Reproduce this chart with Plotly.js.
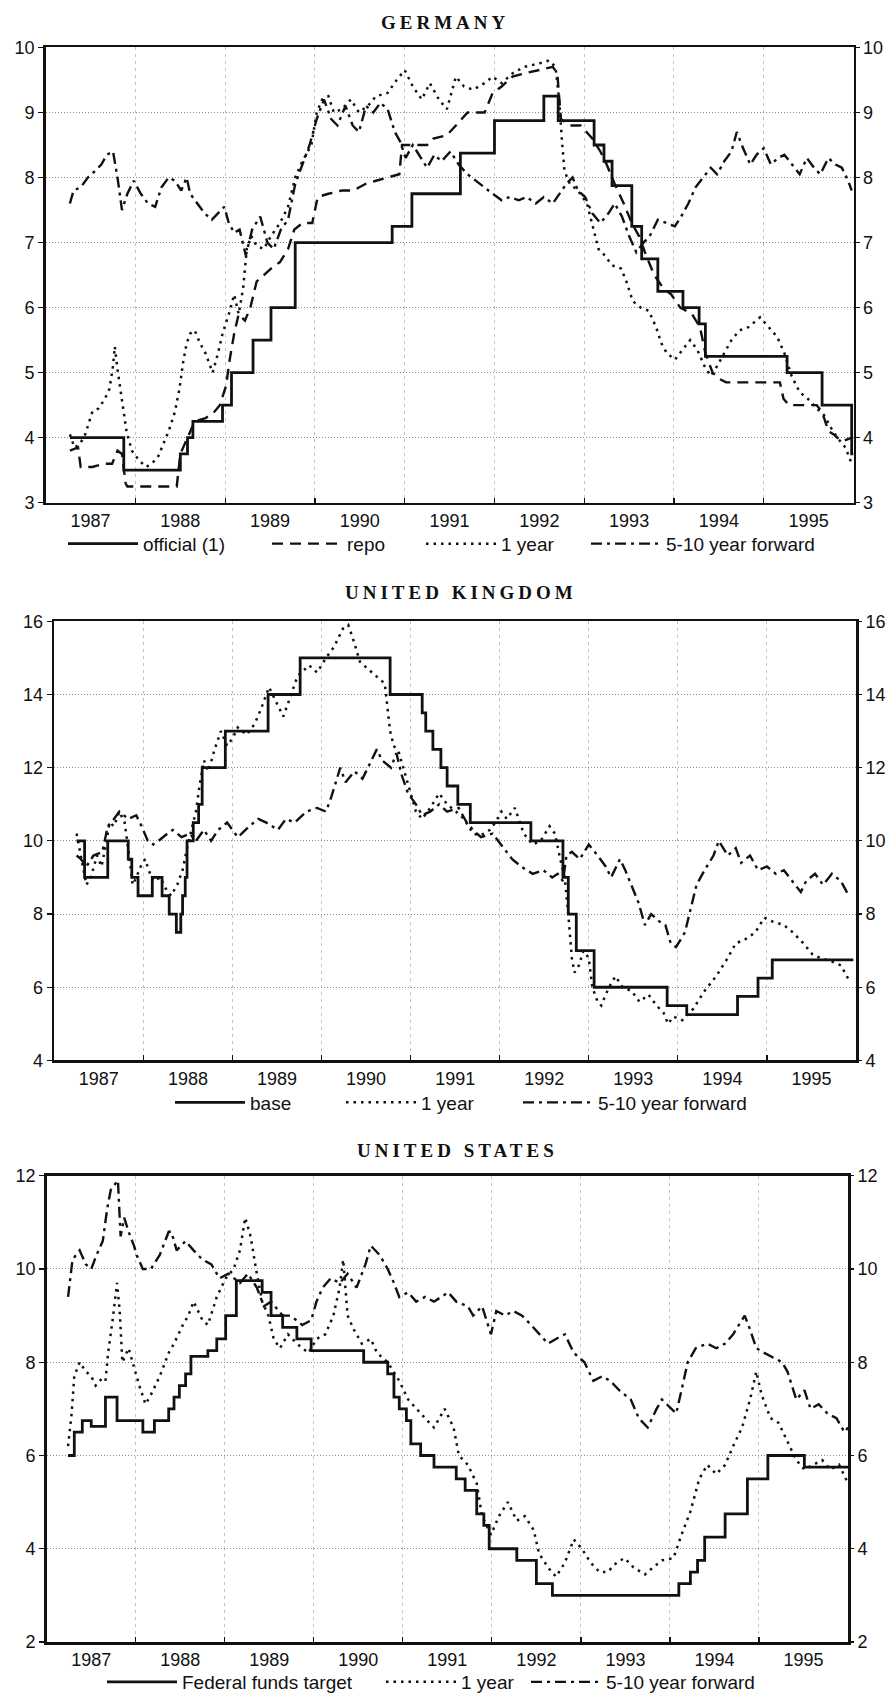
<!DOCTYPE html>
<html>
<head>
<meta charset="utf-8">
<script src="https://cdn.plot.ly/plotly-3.0.1.min.js"></script>
<style>
  html, body { margin: 0; padding: 0; background: #ffffff; }
  #chart { width: 893px; height: 1701px; }
  .annotation-text { letter-spacing: 4px; }
</style>
</head>
<body>
<div id="chart"></div>
<script>
// ---------- tick labels ----------
const yearLabels = ['1987', '1988', '1989', '1990', '1991', '1992', '1993', '1994', '1995'];
const yearBounds = [1988, 1989, 1990, 1991, 1992, 1993, 1994, 1995];

// ---------- Germany (per cent, decimal years) ----------
const deOfficialX = [1987.27, 1987.87, 1988.50, 1988.58, 1988.64, 1988.97, 1989.07, 1989.31, 1989.51, 1989.78, 1990.86, 1991.08, 1991.62, 1992.00, 1992.55, 1992.71, 1993.11, 1993.22, 1993.31, 1993.53, 1993.64, 1993.82, 1994.10, 1994.28, 1994.35, 1995.26, 1995.65, 1995.98, 1996.0];
const deOfficialY = [4.0, 3.5, 3.75, 4.0, 4.25, 4.5, 5.0, 5.5, 6.0, 7.0, 7.25, 7.75, 8.375, 8.875, 9.25, 8.875, 8.5, 8.25, 7.875, 7.25, 6.75, 6.25, 6.0, 5.75, 5.25, 5.0, 4.5, 3.75, 3.75];

const deRepoX = [1987.27, 1987.36, 1987.39, 1987.52, 1987.65, 1987.74, 1987.80, 1987.85, 1987.89, 1987.91, 1988.46, 1988.50, 1988.58, 1988.66, 1988.78, 1988.88, 1988.94, 1989.01, 1989.05, 1989.10, 1989.15, 1989.22, 1989.28, 1989.35, 1989.43, 1989.51, 1989.61, 1989.70, 1989.77, 1989.86, 1989.97, 1990.03, 1990.15, 1990.30, 1990.43, 1990.56, 1990.68, 1990.81, 1990.94, 1990.97, 1991.25, 1991.32, 1991.47, 1991.57, 1991.70, 1991.89, 1991.98, 1992.08, 1992.20, 1992.33, 1992.49, 1992.65, 1992.70, 1992.74, 1992.84, 1992.96, 1993.09, 1993.18, 1993.25, 1993.34, 1993.44, 1993.53, 1993.61, 1993.69, 1993.78, 1993.88, 1993.97, 1994.07, 1994.20, 1994.29, 1994.35, 1994.43, 1994.51, 1994.58, 1995.18, 1995.22, 1995.28, 1995.59, 1995.65, 1995.72, 1995.78, 1995.82, 1995.89, 1995.98];
const deRepoY = [3.8, 3.85, 3.55, 3.55, 3.6, 3.6, 3.8, 3.75, 3.3, 3.25, 3.25, 3.75, 4.0, 4.25, 4.3, 4.4, 4.5, 4.8, 5.2, 5.6, 5.9, 5.8, 6.0, 6.4, 6.5, 6.6, 6.7, 6.9, 7.2, 7.3, 7.3, 7.7, 7.75, 7.8, 7.8, 7.9, 7.95, 8.0, 8.05, 8.5, 8.5, 8.6, 8.65, 8.8, 9.0, 9.0, 9.3, 9.4, 9.55, 9.6, 9.65, 9.7, 9.6, 8.9, 8.8, 8.8, 8.6, 8.4, 8.2, 7.9, 7.6, 7.3, 7.1, 6.8, 6.5, 6.3, 6.2, 6.0, 5.9, 5.7, 5.3, 5.0, 4.9, 4.85, 4.85, 4.6, 4.5, 4.5, 4.4, 4.1, 4.05, 4.0, 3.95, 4.0];

const de1yX = [1987.27, 1987.32, 1987.38, 1987.44, 1987.52, 1987.59, 1987.66, 1987.71, 1987.75, 1987.77, 1987.80, 1987.85, 1987.90, 1987.96, 1988.04, 1988.12, 1988.18, 1988.25, 1988.31, 1988.37, 1988.44, 1988.49, 1988.53, 1988.57, 1988.61, 1988.66, 1988.72, 1988.78, 1988.86, 1988.92, 1988.97, 1989.04, 1989.10, 1989.15, 1989.20, 1989.24, 1989.29, 1989.35, 1989.43, 1989.51, 1989.61, 1989.70, 1989.78, 1989.86, 1989.96, 1990.02, 1990.08, 1990.15, 1990.21, 1990.30, 1990.40, 1990.49, 1990.59, 1990.68, 1990.81, 1990.91, 1991.00, 1991.09, 1991.19, 1991.28, 1991.38, 1991.47, 1991.57, 1991.66, 1991.76, 1991.89, 1991.98, 1992.08, 1992.20, 1992.33, 1992.49, 1992.61, 1992.68, 1992.72, 1992.75, 1992.78, 1992.84, 1992.93, 1993.03, 1993.10, 1993.16, 1993.23, 1993.31, 1993.41, 1993.47, 1993.54, 1993.63, 1993.72, 1993.80, 1993.86, 1993.92, 1994.01, 1994.09, 1994.18, 1994.26, 1994.34, 1994.41, 1994.48, 1994.56, 1994.64, 1994.73, 1994.83, 1994.96, 1995.05, 1995.15, 1995.23, 1995.31, 1995.40, 1995.49, 1995.59, 1995.67, 1995.75, 1995.82, 1995.91, 1995.98];
const de1yY = [4.05, 3.85, 3.9, 4.05, 4.4, 4.45, 4.6, 4.75, 5.1, 5.4, 5.05, 4.6, 4.1, 3.8, 3.65, 3.55, 3.6, 3.7, 3.9, 4.1, 4.4, 4.75, 5.15, 5.45, 5.6, 5.65, 5.45, 5.3, 5.0, 5.3, 5.6, 5.9, 6.2, 5.9, 6.3, 6.9, 7.1, 6.95, 6.9, 7.1, 7.3, 7.55, 8.0, 8.25, 8.5, 9.0, 9.2, 9.25, 9.0, 9.05, 9.2, 9.0, 9.1, 9.25, 9.3, 9.5, 9.65, 9.4, 9.2, 9.45, 9.2, 9.05, 9.55, 9.4, 9.35, 9.45, 9.55, 9.45, 9.6, 9.7, 9.75, 9.8, 9.7, 9.2, 8.6, 8.1, 7.9, 7.8, 7.6, 7.2, 6.9, 6.8, 6.65, 6.6, 6.4, 6.1, 6.0, 5.95, 5.7, 5.45, 5.3, 5.2, 5.35, 5.5, 5.35, 5.1, 4.95, 5.1, 5.3, 5.5, 5.65, 5.7, 5.85, 5.7, 5.55, 5.3, 4.95, 4.7, 4.6, 4.45, 4.35, 4.15, 4.0, 3.85, 3.6];

const deFwdX = [1987.27, 1987.31, 1987.39, 1987.47, 1987.55, 1987.62, 1987.68, 1987.75, 1987.80, 1987.85, 1987.91, 1987.98, 1988.06, 1988.14, 1988.22, 1988.29, 1988.37, 1988.44, 1988.51, 1988.57, 1988.61, 1988.69, 1988.77, 1988.85, 1988.92, 1988.99, 1989.04, 1989.10, 1989.16, 1989.23, 1989.30, 1989.39, 1989.47, 1989.54, 1989.62, 1989.70, 1989.78, 1989.86, 1989.94, 1990.02, 1990.10, 1990.18, 1990.25, 1990.34, 1990.42, 1990.49, 1990.57, 1990.65, 1990.73, 1990.81, 1990.89, 1990.95, 1991.01, 1991.09, 1991.18, 1991.25, 1991.33, 1991.41, 1991.51, 1991.60, 1991.70, 1991.79, 1991.89, 1991.98, 1992.08, 1992.17, 1992.27, 1992.36, 1992.46, 1992.55, 1992.65, 1992.73, 1992.80, 1992.87, 1992.93, 1993.01, 1993.09, 1993.18, 1993.27, 1993.34, 1993.42, 1993.50, 1993.58, 1993.66, 1993.73, 1993.82, 1993.91, 1994.01, 1994.08, 1994.16, 1994.24, 1994.32, 1994.41, 1994.48, 1994.56, 1994.64, 1994.70, 1994.77, 1994.85, 1994.92, 1995.00, 1995.08, 1995.16, 1995.23, 1995.31, 1995.40, 1995.48, 1995.56, 1995.63, 1995.72, 1995.80, 1995.87, 1995.94, 1995.98];
const deFwdY = [7.6, 7.8, 7.85, 8.0, 8.1, 8.2, 8.35, 8.4, 8.0, 7.5, 7.75, 7.95, 7.75, 7.6, 7.55, 7.85, 8.0, 7.95, 7.8, 8.0, 7.75, 7.6, 7.45, 7.35, 7.45, 7.55, 7.3, 7.15, 7.2, 6.8, 7.2, 7.4, 7.0, 6.9, 7.2, 7.35, 7.9, 8.2, 8.5, 8.9, 9.2, 8.9, 8.8, 9.1, 8.8, 8.7, 9.1, 9.0, 9.15, 9.05, 8.7, 8.55, 8.3, 8.5, 8.3, 8.15, 8.35, 8.25, 8.4, 8.2, 8.05, 7.95, 7.85, 7.75, 7.65, 7.7, 7.65, 7.7, 7.6, 7.7, 7.6, 7.75, 7.9, 8.0, 7.8, 7.7, 7.45, 7.3, 7.45, 7.6, 7.4, 7.1, 6.85, 7.0, 7.1, 7.35, 7.3, 7.25, 7.4, 7.6, 7.85, 8.0, 8.15, 8.05, 8.25, 8.4, 8.7, 8.45, 8.2, 8.35, 8.45, 8.2, 8.3, 8.35, 8.2, 8.05, 8.3, 8.15, 8.05, 8.3, 8.2, 8.15, 7.95, 7.8];

// ---------- United Kingdom ----------
const ukBaseX = [1987.25, 1987.34, 1987.60, 1987.83, 1987.87, 1987.94, 1988.10, 1988.21, 1988.29, 1988.37, 1988.42, 1988.44, 1988.47, 1988.49, 1988.56, 1988.62, 1988.66, 1988.92, 1989.40, 1989.76, 1990.77, 1991.13, 1991.17, 1991.25, 1991.34, 1991.41, 1991.53, 1991.67, 1992.35, 1992.71, 1992.77, 1992.86, 1993.06, 1993.88, 1994.10, 1994.67, 1994.90, 1995.06, 1995.97];
const ukBaseY = [10, 9, 10, 9.5, 9, 8.5, 9, 8.5, 8, 7.5, 8, 8.5, 9, 10, 10.5, 11, 12, 13, 14, 15, 14, 13.5, 13, 12.5, 12, 11.5, 11, 10.5, 10, 9, 8, 7, 6, 5.5, 5.25, 5.75, 6.25, 6.75, 6.75];

const uk1yX = [1987.25, 1987.29, 1987.32, 1987.36, 1987.41, 1987.48, 1987.53, 1987.58, 1987.62, 1987.67, 1987.73, 1987.79, 1987.84, 1987.88, 1987.92, 1987.97, 1988.02, 1988.06, 1988.11, 1988.19, 1988.25, 1988.31, 1988.38, 1988.44, 1988.49, 1988.54, 1988.59, 1988.63, 1988.68, 1988.73, 1988.80, 1988.87, 1988.94, 1989.00, 1989.06, 1989.16, 1989.25, 1989.32, 1989.41, 1989.51, 1989.57, 1989.63, 1989.73, 1989.86, 1989.95, 1990.05, 1990.14, 1990.24, 1990.30, 1990.37, 1990.43, 1990.52, 1990.62, 1990.71, 1990.77, 1990.81, 1990.87, 1990.94, 1991.00, 1991.06, 1991.13, 1991.22, 1991.32, 1991.41, 1991.51, 1991.60, 1991.70, 1991.79, 1991.89, 1991.95, 1992.02, 1992.08, 1992.17, 1992.27, 1992.37, 1992.46, 1992.56, 1992.62, 1992.68, 1992.73, 1992.77, 1992.81, 1992.84, 1992.89, 1992.94, 1993.00, 1993.04, 1993.10, 1993.14, 1993.19, 1993.25, 1993.30, 1993.38, 1993.48, 1993.57, 1993.67, 1993.76, 1993.84, 1993.89, 1993.95, 1994.05, 1994.17, 1994.30, 1994.43, 1994.56, 1994.65, 1994.75, 1994.87, 1994.97, 1995.06, 1995.19, 1995.29, 1995.41, 1995.51, 1995.60, 1995.73, 1995.83, 1995.92];
const uk1yY = [10.2, 9.7, 9.4, 8.8, 9.0, 9.6, 9.3, 9.9, 10.5, 10.4, 10.8, 10.5, 9.6, 8.8, 9.0, 9.3, 9.5, 9.2, 8.9, 9.0, 8.7, 8.5, 8.8, 9.2, 9.8, 10.3, 10.8, 11.5, 12.2, 11.9, 12.5, 13.0, 12.6, 12.8, 13.1, 12.9, 13.2, 13.6, 14.2, 13.7, 13.4, 13.8, 14.5, 14.8, 14.6, 15.0, 15.3, 15.8, 15.9, 15.4, 14.9, 14.7, 14.5, 14.3, 13.0, 12.6, 12.4, 11.8, 11.3, 10.8, 10.6, 10.9, 11.3, 11.0, 10.8, 10.6, 10.2, 10.15, 10.3, 10.5, 10.8, 10.6, 10.9, 10.2, 9.9, 10.0, 10.4, 10.2, 9.5, 9.0, 8.0, 6.8, 6.4, 6.6, 7.0, 6.8, 6.0, 5.6, 5.5, 5.8, 6.1, 6.3, 6.0, 5.9, 5.6, 5.8, 5.5, 5.3, 5.0, 5.2, 5.1, 5.4, 5.9, 6.3, 6.8, 7.2, 7.3, 7.5, 7.9, 7.8, 7.7, 7.5, 7.2, 6.9, 6.8, 6.7, 6.6, 6.2];

const ukFwdX = [1987.25, 1987.30, 1987.36, 1987.44, 1987.54, 1987.60, 1987.67, 1987.73, 1987.83, 1987.92, 1987.98, 1988.05, 1988.11, 1988.17, 1988.27, 1988.33, 1988.43, 1988.52, 1988.59, 1988.68, 1988.76, 1988.84, 1988.94, 1989.06, 1989.19, 1989.29, 1989.38, 1989.51, 1989.60, 1989.70, 1989.83, 1989.95, 1990.05, 1990.11, 1990.21, 1990.27, 1990.37, 1990.46, 1990.56, 1990.62, 1990.68, 1990.78, 1990.84, 1990.90, 1990.97, 1991.06, 1991.13, 1991.22, 1991.32, 1991.41, 1991.54, 1991.63, 1991.70, 1991.79, 1991.92, 1992.05, 1992.14, 1992.24, 1992.37, 1992.49, 1992.59, 1992.65, 1992.71, 1992.75, 1992.81, 1992.90, 1993.00, 1993.10, 1993.19, 1993.25, 1993.35, 1993.41, 1993.51, 1993.56, 1993.63, 1993.70, 1993.79, 1993.86, 1993.92, 1993.98, 1994.08, 1994.16, 1994.21, 1994.30, 1994.40, 1994.46, 1994.56, 1994.65, 1994.71, 1994.81, 1994.90, 1995.00, 1995.10, 1995.19, 1995.29, 1995.38, 1995.44, 1995.54, 1995.63, 1995.73, 1995.83, 1995.92];
const ukFwdY = [9.6, 9.5, 9.3, 9.6, 9.7, 10.4, 10.6, 10.8, 10.6, 10.7, 10.4, 10.0, 9.9, 10.0, 10.2, 10.3, 10.1, 10.2, 10.0, 10.3, 10.0, 10.3, 10.5, 10.1, 10.4, 10.6, 10.5, 10.3, 10.6, 10.5, 10.8, 10.9, 10.8, 11.2, 12.0, 11.6, 11.9, 11.7, 12.2, 12.5, 12.2, 12.0, 12.4, 11.8, 11.3, 11.0, 10.7, 10.8, 11.0, 10.8, 10.9, 10.5, 10.3, 10.1, 10.2, 9.8, 9.5, 9.3, 9.1, 9.2, 9.0, 9.1, 8.9, 9.6, 9.7, 9.5, 9.9, 9.6, 9.3, 9.0, 9.5, 9.2, 8.6, 8.3, 7.7, 8.0, 7.8, 7.7, 7.2, 7.1, 7.5, 8.3, 8.8, 9.2, 9.6, 10.0, 9.6, 9.8, 9.4, 9.6, 9.2, 9.3, 9.1, 9.2, 8.9, 8.6, 8.9, 9.1, 8.8, 9.1, 8.9, 8.5];

// ---------- United States ----------
const usFedX = [1987.24, 1987.31, 1987.40, 1987.50, 1987.66, 1987.79, 1988.08, 1988.21, 1988.37, 1988.43, 1988.49, 1988.56, 1988.62, 1988.81, 1988.91, 1989.01, 1989.13, 1989.42, 1989.52, 1989.65, 1989.81, 1989.97, 1990.56, 1990.83, 1990.90, 1990.96, 1991.04, 1991.09, 1991.20, 1991.35, 1991.60, 1991.70, 1991.83, 1991.91, 1991.97, 1992.28, 1992.50, 1992.68, 1994.10, 1994.23, 1994.31, 1994.39, 1994.62, 1994.87, 1995.10, 1995.51, 1996.0];
const usFedY = [6.0, 6.5, 6.75, 6.625, 7.25, 6.75, 6.5, 6.75, 7.0, 7.25, 7.5, 7.75, 8.125, 8.25, 8.5, 9.0, 9.75, 9.5, 9.0, 8.75, 8.5, 8.25, 8.0, 7.75, 7.25, 7.0, 6.75, 6.25, 6.0, 5.75, 5.5, 5.25, 4.75, 4.5, 4.0, 3.75, 3.25, 3.0, 3.25, 3.5, 3.75, 4.25, 4.75, 5.5, 6.0, 5.75, 5.75];

const us1yX = [1987.24, 1987.28, 1987.31, 1987.37, 1987.44, 1987.50, 1987.55, 1987.62, 1987.66, 1987.69, 1987.74, 1987.79, 1987.82, 1987.85, 1987.92, 1987.98, 1988.04, 1988.11, 1988.17, 1988.27, 1988.37, 1988.43, 1988.53, 1988.59, 1988.65, 1988.75, 1988.81, 1988.91, 1989.01, 1989.10, 1989.17, 1989.23, 1989.29, 1989.36, 1989.42, 1989.49, 1989.55, 1989.62, 1989.71, 1989.81, 1989.94, 1990.03, 1990.13, 1990.22, 1990.29, 1990.33, 1990.38, 1990.45, 1990.54, 1990.64, 1990.71, 1990.83, 1990.96, 1991.06, 1991.15, 1991.25, 1991.35, 1991.41, 1991.47, 1991.57, 1991.63, 1991.73, 1991.83, 1991.89, 1991.99, 1992.08, 1992.18, 1992.28, 1992.37, 1992.47, 1992.53, 1992.63, 1992.72, 1992.82, 1992.92, 1993.01, 1993.11, 1993.21, 1993.30, 1993.40, 1993.49, 1993.59, 1993.72, 1993.81, 1993.91, 1994.04, 1994.13, 1994.23, 1994.33, 1994.42, 1994.52, 1994.62, 1994.71, 1994.81, 1994.90, 1994.97, 1995.03, 1995.13, 1995.22, 1995.32, 1995.42, 1995.51, 1995.61, 1995.71, 1995.80, 1995.90, 1996.0];
const us1yY = [6.2, 6.9, 7.7, 8.0, 7.8, 7.7, 7.5, 7.65, 7.6, 8.2, 8.9, 9.7, 9.1, 8.0, 8.3, 7.9, 7.5, 7.1, 7.3, 7.7, 8.2, 8.4, 8.8, 9.0, 9.3, 8.9, 8.8, 9.4, 9.8, 10.0, 10.4, 11.1, 10.7, 9.9, 9.3, 9.0, 8.5, 8.3, 8.6, 8.4, 8.2, 8.5, 8.6, 9.0, 9.6, 10.2, 9.0, 8.7, 8.4, 8.5, 8.2, 8.0, 7.6, 7.2, 7.0, 6.8, 6.6, 6.8, 7.0, 6.6, 6.0, 5.8, 5.4, 4.7, 4.3, 4.7, 5.0, 4.6, 4.7, 4.4, 3.9, 3.6, 3.4, 3.7, 4.2, 4.0, 3.7, 3.5, 3.5, 3.7, 3.8, 3.6, 3.45, 3.6, 3.75, 3.8, 4.3, 4.8, 5.5, 5.8, 5.6, 5.8, 6.2, 6.6, 7.2, 7.8, 7.3, 6.8, 6.7, 6.3, 5.9, 5.7, 5.8, 5.9, 5.7, 5.8, 5.4];

const usFwdX = [1987.24, 1987.29, 1987.37, 1987.44, 1987.50, 1987.56, 1987.63, 1987.68, 1987.72, 1987.80, 1987.83, 1987.87, 1987.92, 1987.98, 1988.01, 1988.08, 1988.17, 1988.27, 1988.37, 1988.40, 1988.46, 1988.56, 1988.65, 1988.75, 1988.85, 1988.94, 1989.04, 1989.17, 1989.26, 1989.36, 1989.44, 1989.52, 1989.65, 1989.74, 1989.87, 1989.97, 1990.03, 1990.10, 1990.19, 1990.29, 1990.38, 1990.48, 1990.58, 1990.64, 1990.74, 1990.83, 1990.90, 1990.96, 1991.06, 1991.15, 1991.25, 1991.35, 1991.51, 1991.60, 1991.73, 1991.79, 1991.89, 1991.99, 1992.05, 1992.15, 1992.24, 1992.34, 1992.44, 1992.53, 1992.63, 1992.72, 1992.82, 1992.92, 1993.04, 1993.14, 1993.24, 1993.33, 1993.43, 1993.56, 1993.65, 1993.75, 1993.85, 1993.91, 1994.01, 1994.07, 1994.13, 1994.20, 1994.29, 1994.42, 1994.52, 1994.62, 1994.71, 1994.78, 1994.84, 1994.90, 1994.97, 1995.06, 1995.16, 1995.26, 1995.32, 1995.42, 1995.51, 1995.58, 1995.67, 1995.77, 1995.87, 1995.96, 1996.0];
const usFwdY = [9.4, 10.2, 10.4, 10.1, 10.0, 10.3, 10.6, 11.3, 11.7, 11.9, 10.7, 11.1, 10.8, 10.5, 10.3, 10.0, 10.0, 10.3, 10.8, 10.8, 10.4, 10.6, 10.4, 10.2, 10.1, 9.8, 9.9, 9.7, 9.9, 9.6, 9.2, 9.3, 9.0, 9.0, 8.8, 8.9, 9.3, 9.6, 9.8, 9.7, 9.9, 9.6, 10.1, 10.5, 10.3, 10.0, 9.7, 9.4, 9.5, 9.3, 9.4, 9.3, 9.5, 9.3, 9.2, 9.0, 9.2, 8.6, 9.1, 9.0, 9.1, 9.0, 8.8, 8.6, 8.4, 8.5, 8.6, 8.2, 8.0, 7.6, 7.7, 7.6, 7.4, 7.2, 6.8, 6.6, 7.0, 7.2, 7.0, 6.9, 7.4, 8.0, 8.3, 8.4, 8.3, 8.4, 8.6, 8.8, 9.0, 8.7, 8.3, 8.2, 8.1, 8.0, 7.8, 7.2, 7.4, 7.0, 7.1, 6.9, 6.8, 6.5, 6.6];

// ---------- page geometry (pixels) ----------
const W = 893, H = 1701;
const INK = '#111111';
const GRID_H = '#8e8888';
const GRID_V = '#cdbfbf';
const sansFont = 'Liberation Sans, Arial, Helvetica, sans-serif';
const tickFont = { family: sansFont, size: 18, color: INK };

const px = v => v / W;
const py = v => 1 - v / H;

function xAxis(left, right, anchor) {
  return {
    domain: [px(left), px(right)], anchor: anchor,
    range: [1987, 1996], fixedrange: true,
    tickmode: 'array', tickvals: yearLabels.map(s => Number(s) + 0.5), ticktext: yearLabels,
    ticks: '', showgrid: false, zeroline: false,
    showline: true, mirror: true, linecolor: INK, linewidth: 2.6,
    tickfont: tickFont,
    minor: {
      tickmode: 'array', tickvals: yearBounds,
      ticks: 'inside', ticklen: 5, tickwidth: 1.2, tickcolor: INK,
      showgrid: true, gridcolor: GRID_V, griddash: '3px,4px', gridwidth: 1
    }
  };
}
function yAxis(top, bottom, anchor, range, step) {
  return {
    domain: [py(bottom), py(top)], anchor: anchor,
    range: range, fixedrange: true, tick0: range[0], dtick: step,
    ticks: 'outside', ticklen: 5, tickwidth: 1.2, tickcolor: INK,
    showgrid: true, gridcolor: GRID_H, griddash: '1px,2px', gridwidth: 1,
    zeroline: false, showline: true, mirror: true, linecolor: INK, linewidth: 2.6,
    tickfont: tickFont
  };
}
function yAxisRight(overlay, anchor, range, step) {
  return {
    overlaying: overlay, anchor: anchor, side: 'right',
    range: range, fixedrange: true, tick0: range[0], dtick: step,
    ticks: 'outside', ticklen: 5, tickwidth: 1.2, tickcolor: INK,
    showgrid: false, zeroline: false, showline: false,
    tickfont: tickFont
  };
}

const STYLE = {
  solid: { color: INK, width: 2.8, dash: 'solid', shape: 'hv' },
  repo:  { color: INK, width: 2.4, dash: '11px,7px' },
  dots:  { color: INK, width: 2.5, dash: '2.5px,5px' },
  fwd:   { color: INK, width: 2.4, dash: '11px,5px,3px,5px' }
};

function series(x, y, name, style, xa, ya, legend, legendwidth) {
  const t = { type: 'scatter', mode: 'lines', x: x, y: y, name: name, line: style,
              xaxis: xa, yaxis: ya, legend: legend, hoverinfo: 'skip' };
  if (legendwidth) t.legendwidth = legendwidth;
  return t;
}

const data = [
  series(deOfficialX, deOfficialY, 'official (1)', STYLE.solid, 'x', 'y', 'legend', 119),
  series(deRepoX, deRepoY, 'repo', STYLE.repo, 'x', 'y', 'legend', 69),
  series(de1yX, de1yY, '1 year', STYLE.dots, 'x', 'y', 'legend', 80),
  series(deFwdX, deFwdY, '5-10 year forward', STYLE.fwd, 'x', 'y4', 'legend'),

  series(ukBaseX, ukBaseY, 'base', STYLE.solid, 'x2', 'y2', 'legend2', 86),
  series(uk1yX, uk1yY, '1 year', STYLE.dots, 'x2', 'y2', 'legend2', 92),
  series(ukFwdX, ukFwdY, '5-10 year forward', STYLE.fwd, 'x2', 'y5', 'legend2'),

  series(usFedX, usFedY, 'Federal funds target', STYLE.solid, 'x3', 'y3', 'legend3', 194),
  series(us1yX, us1yY, '1 year', STYLE.dots, 'x3', 'y3', 'legend3', 60),
  series(usFwdX, usFwdY, '5-10 year forward', STYLE.fwd, 'x3', 'y6', 'legend3')
];

function legendAt(leftPx, midPx, size) {
  return {
    orientation: 'h', x: px(leftPx), xanchor: 'left', y: py(midPx), yanchor: 'middle',
    font: { family: sansFont, size: size, color: INK },
    itemwidth: 70, bgcolor: 'rgba(0,0,0,0)', borderwidth: 0,
    traceorder: 'normal', itemclick: false, itemdoubleclick: false
  };
}

function title(text, cx, cy) {
  return {
    text: text, xref: 'paper', yref: 'paper', x: px(cx), y: py(cy),
    xanchor: 'center', yanchor: 'middle', showarrow: false,
    font: { family: 'Liberation Serif, Times New Roman, serif', size: 19, weight: 700, color: INK }
  };
}

const layout = {
  width: W, height: H, autosize: false,
  margin: { l: 0, r: 0, t: 0, b: 0, pad: 0 },
  paper_bgcolor: '#ffffff', plot_bgcolor: '#ffffff',
  hovermode: false,
  xaxis:  xAxis(45.7, 853.5, 'y'),
  yaxis:  yAxis(47.7, 505.7, 'x', [3, 10], 1),
  yaxis4: yAxisRight('y', 'x', [3, 10], 1),
  xaxis2: xAxis(54.3, 856, 'y2'),
  yaxis2: yAxis(625, 1066.7, 'x2', [4, 16], 2),
  yaxis5: yAxisRight('y2', 'x2', [4, 16], 2),
  xaxis3: xAxis(46.7, 848, 'y3'),
  yaxis3: yAxis(1182.7, 1651.7, 'x3', [2, 12], 2),
  yaxis6: yAxisRight('y3', 'x3', [2, 12], 2),
  legend:  legendAt(63, 547, 19),
  legend2: legendAt(170, 1109, 19),
  legend3: legendAt(102, 1692, 19),
  annotations: [
    title('GERMANY', 445, 23),
    title('UNITED KINGDOM', 461, 596),
    title('UNITED STATES', 457, 1157)
  ]
};

Plotly.newPlot('chart', data, layout, { staticPlot: true, displayModeBar: false });
</script>
</body>
</html>
